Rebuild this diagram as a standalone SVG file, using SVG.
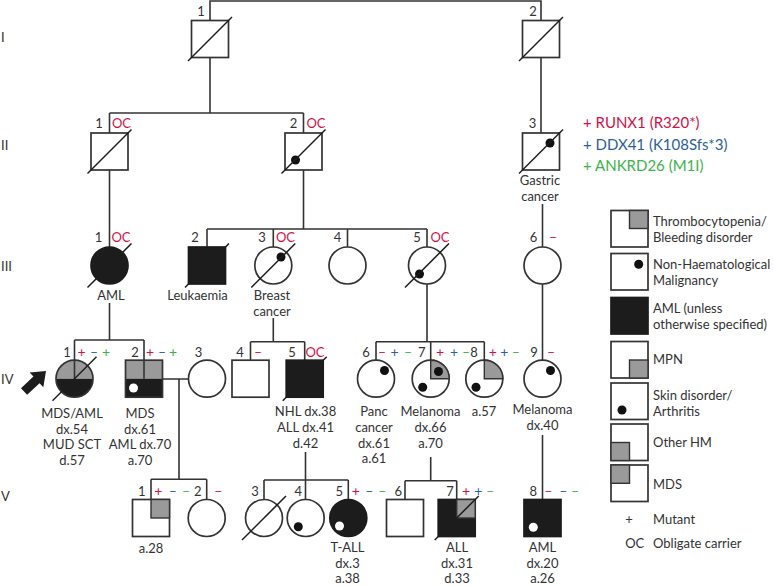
<svg xmlns="http://www.w3.org/2000/svg" width="774" height="586" viewBox="0 0 774 586">
<style>
.ln{stroke:#333;stroke-width:1.6;fill:none}
.sym{stroke:#333;stroke-width:1.7;fill:#fff}
.blk{fill:#1c1c1c;stroke:#1c1c1c;stroke-width:1.7}
.gry{fill:#9a9a9a;stroke:#333;stroke-width:1.4}
.sl{stroke:#1c1c1c;stroke-width:1.5}
.dot{fill:#111}
.wd{fill:#fff}
.t{font-family:Lato,"Open Sans","Noto Sans",sans-serif;font-size:13px;fill:#333}
.c{text-anchor:middle}
.r{fill:#d31145}
.b{fill:#2d5f9a}
.g{fill:#3cb34a}
.s{font-size:14px}
.m{font-size:15px}
</style>
<rect width="774" height="586" fill="#fff"/>
<g id="gen-labels" class="t">
<text x="1" y="42">I</text>
<text x="1" y="150">II</text>
<text x="1" y="271">III</text>
<text x="1" y="384">IV</text>
<text x="1" y="501">V</text>
</g>
<g id="connectors" class="ln">
<path d="M210,21V1H541V21"/>
<path d="M210,57V113M109.5,113H303.5M109.5,113V133M303.5,113V133"/>
<path d="M541,57V133"/>
<path d="M109.5,170V247"/>
<path d="M303.5,170V229M207,229H427M207,229V247M273.3,229V247M347.5,229V247M427,229V247"/>
<path d="M542.5,204V247"/>
<path d="M109.5,303V340M74.5,340H144M74.5,340V360M144,340V360"/>
<path d="M273.3,318V341.7M250.5,341.7H304.7M250.5,341.7V360M304.7,341.7V360"/>
<path d="M427,284V341.7M376,341.7H484.3M376,341.7V360M430.7,341.7V360M484.3,341.7V360"/>
<path d="M542.5,284V360"/>
<path d="M162.5,379H188.5M179,379V479.3M151,479.3H206.7M151,479.3V499.5M206.7,479.3V499.5"/>
<path d="M305.5,452V499.5M264,480H348.3M264,480V499.5M348.3,480V499.5"/>
<path d="M430.7,457V480.7M405,480.7H456.7M405,480.7V499.5M456.7,480.7V499.5"/>
<path d="M542.5,435V499.5"/>
</g>
<g id="I-1">
<rect class="sym" x="191.5" y="20.5" width="37" height="37"/>
<line class="sl" x1="188" y1="61" x2="232" y2="17"/>
<text class="t c" x="201" y="16">1</text>
</g>
<g id="I-2">
<rect class="sym" x="522.5" y="20.5" width="37" height="37"/>
<line class="sl" x1="519" y1="61" x2="563" y2="17"/>
<text class="t c" x="533" y="16">2</text>
</g>
<g id="II-1">
<rect class="sym" x="91" y="133" width="37" height="37"/>
<line class="sl" x1="87.5" y1="173.5" x2="131.5" y2="129.5"/>
<text class="t c" x="99" y="127.5">1</text>
<text class="t c r" x="121.5" y="127.5">OC</text>
</g>
<g id="II-2">
<rect class="sym" x="285" y="133" width="37" height="37"/>
<circle class="dot" cx="295.5" cy="160" r="4.5"/>
<line class="sl" x1="281.5" y1="173.5" x2="325.5" y2="129.5"/>
<text class="t c" x="293.5" y="127.5">2</text>
<text class="t c r" x="316" y="127.5">OC</text>
</g>
<g id="II-3">
<rect class="sym" x="522.5" y="133" width="37" height="37"/>
<circle class="dot" cx="550" cy="143" r="4.5"/>
<line class="sl" x1="519" y1="173.5" x2="563" y2="129.5"/>
<text class="t c" x="532.5" y="127.5">3</text>
<text class="t c" x="540" y="185">Gastric</text>
<text class="t c" x="540" y="200.5">cancer</text>
</g>
<g id="III-1">
<circle class="blk" cx="109.5" cy="265.5" r="18.5"/>
<line class="sl" x1="87.5" y1="287.5" x2="131.5" y2="243.5"/>
<text class="t c" x="98.5" y="242">1</text>
<text class="t c r" x="121" y="242">OC</text>
<text class="t c" x="111" y="300">AML</text>
</g>
<g id="III-2">
<rect class="blk" x="188.5" y="247" width="37" height="37"/>
<line class="sl" x1="185" y1="287.5" x2="229" y2="243.5"/>
<text class="t c" x="195" y="242">2</text>
<text class="t c" x="197.5" y="300">Leukaemia</text>
</g>
<g id="III-3">
<circle class="sym" cx="273.3" cy="265.5" r="18.5"/>
<circle class="dot" cx="281" cy="257" r="4.5"/>
<line class="sl" x1="251.3" y1="287.5" x2="295.3" y2="243.5"/>
<text class="t c" x="262" y="242">3</text>
<text class="t c r" x="285.5" y="242">OC</text>
<text class="t c" x="272" y="300">Breast</text>
<text class="t c" x="272" y="315.5">cancer</text>
</g>
<g id="III-4">
<circle class="sym" cx="347.5" cy="265.5" r="18.5"/>
<text class="t c" x="337.5" y="242">4</text>
</g>
<g id="III-5">
<circle class="sym" cx="427" cy="265.5" r="18.5"/>
<circle class="dot" cx="419.5" cy="274" r="4.5"/>
<line class="sl" x1="405" y1="287.5" x2="449" y2="243.5"/>
<text class="t c" x="417" y="242">5</text>
<text class="t c r" x="440" y="242">OC</text>
</g>
<g id="III-6">
<circle class="sym" cx="542.5" cy="265.5" r="18.5"/>
<text class="t c" x="533.5" y="242">6</text>
<text class="t c s r" x="553" y="242">–</text>
</g>
<g id="IV-arrow">
<polygon fill="#1c1c1c" points="0,0 -13,-10 -13,-4.5 -30,-4.5 -30,4.5 -13,4.5 -13,10" transform="translate(46,371) rotate(-43)"/>
</g>
<g id="IV-1">
<path fill="#9a9a9a" d="M56,378.7A18.5,18.5 0 0 1 93,378.7Z"/>
<path fill="#1c1c1c" d="M56,378.7A18.5,18.5 0 0 0 93,378.7Z"/>
<line class="ln" x1="74.5" y1="360.2" x2="74.5" y2="378.7"/>
<circle cx="74.5" cy="378.7" r="18.5" fill="none" stroke="#333" stroke-width="1.7"/>
<line class="sl" x1="52.5" y1="400.7" x2="96.5" y2="356.7"/>
<text class="t c" x="67" y="357">1</text>
<text class="t c s r" x="81.5" y="357">+</text>
<text class="t c s b" x="94" y="357">–</text>
<text class="t c s g" x="106" y="357">+</text>
<text class="t c" x="72" y="418">MDS/AML</text>
<text class="t c" x="72" y="433.5">dx.54</text>
<text class="t c" x="72" y="449">MUD SCT</text>
<text class="t c" x="72" y="464.5">d.57</text>
</g>
<g id="IV-2">
<rect fill="#9a9a9a" x="125.5" y="360.2" width="37" height="18.5"/>
<rect fill="#1c1c1c" x="125.5" y="378.7" width="37" height="18.5"/>
<line class="ln" x1="144" y1="360.2" x2="144" y2="378.7"/>
<rect x="125.5" y="360.2" width="37" height="37" fill="none" stroke="#333" stroke-width="1.7"/>
<circle class="wd" cx="133.5" cy="388" r="4.5"/>
<text class="t c" x="135" y="357">2</text>
<text class="t c s r" x="150" y="357">+</text>
<text class="t c s b" x="162" y="357">–</text>
<text class="t c s g" x="173" y="357">+</text>
<text class="t c" x="140" y="418">MDS</text>
<text class="t c" x="140" y="433.5">dx.61</text>
<text class="t c" x="140" y="449">AML dx.70</text>
<text class="t c" x="140" y="464.5">a.70</text>
</g>
<g id="IV-3">
<circle class="sym" cx="207" cy="378.7" r="18.5"/>
<text class="t c" x="198.5" y="357">3</text>
</g>
<g id="IV-4">
<rect class="sym" x="232" y="360.2" width="37" height="37"/>
<text class="t c" x="240" y="357">4</text>
<text class="t c s r" x="258" y="357">–</text>
</g>
<g id="IV-5">
<rect class="blk" x="286.2" y="360.2" width="37" height="37"/>
<line class="sl" x1="282.7" y1="400.7" x2="326.7" y2="356.7"/>
<text class="t c" x="292" y="357">5</text>
<text class="t c r" x="315" y="357">OC</text>
<text class="t c" x="305.5" y="416">NHL dx.38</text>
<text class="t c" x="305.5" y="432">ALL dx.41</text>
<text class="t c" x="305.5" y="447.5">d.42</text>
</g>
<g id="IV-6">
<circle class="sym" cx="376" cy="378.7" r="18.5"/>
<circle class="dot" cx="384.5" cy="370.5" r="4.5"/>
<text class="t c" x="366" y="357">6</text>
<text class="t c s r" x="382" y="357">–</text>
<text class="t c s b" x="394.5" y="357">+</text>
<text class="t c s g" x="408" y="357">–</text>
<text class="t c" x="374" y="416">Panc</text>
<text class="t c" x="374" y="432">cancer</text>
<text class="t c" x="374" y="447.5">dx.61</text>
<text class="t c" x="374" y="463">a.61</text>
</g>
<g id="IV-7">
<circle class="sym" cx="430.7" cy="378.7" r="18.5"/>
<path class="gry" d="M430.7,378.7V360.2A18.5,18.5 0 0 1 449.2,378.7Z"/>
<circle class="dot" cx="438.5" cy="371.5" r="4.5"/>
<circle class="dot" cx="422.7" cy="387.3" r="4.5"/>
<text class="t c" x="421.7" y="357">7</text>
<text class="t c s r" x="440" y="357">+</text>
<text class="t c s b" x="454" y="357">+</text>
<text class="t c s g" x="466" y="357">–</text>
<text class="t c" x="430.5" y="416">Melanoma</text>
<text class="t c" x="430.5" y="432">dx.66</text>
<text class="t c" x="430.5" y="447.5">a.70</text>
</g>
<g id="IV-8">
<circle class="sym" cx="484.3" cy="378.7" r="18.5"/>
<path class="gry" d="M484.3,378.7V360.2A18.5,18.5 0 0 1 502.8,378.7Z"/>
<circle class="dot" cx="476" cy="387.3" r="4.5"/>
<text class="t c" x="474" y="357">8</text>
<text class="t c s r" x="492.7" y="357">+</text>
<text class="t c s b" x="504.3" y="357">+</text>
<text class="t c s g" x="515.7" y="357">–</text>
<text class="t c" x="484" y="416">a.57</text>
</g>
<g id="IV-9">
<circle class="sym" cx="542.5" cy="378.7" r="18.5"/>
<circle class="dot" cx="550.5" cy="370.5" r="4.5"/>
<text class="t c" x="534" y="357">9</text>
<text class="t c s r" x="551" y="357">–</text>
<text class="t c" x="542.5" y="414">Melanoma</text>
<text class="t c" x="542.5" y="429.5">dx.40</text>
</g>
<g id="V-1">
<rect class="sym" x="132.5" y="499.5" width="37" height="37"/>
<rect class="gry" x="151" y="499.5" width="18.5" height="18.5"/>
<text class="t c" x="141.7" y="496">1</text>
<text class="t c s r" x="158.3" y="496">+</text>
<text class="t c s b" x="172.7" y="496">–</text>
<text class="t c s g" x="186" y="496">–</text>
<text class="t c" x="151" y="552.5">a.28</text>
</g>
<g id="V-2">
<circle class="sym" cx="206.7" cy="518" r="18.5"/>
<text class="t c" x="197.7" y="496">2</text>
<text class="t c s r" x="218.3" y="496">–</text>
</g>
<g id="V-3">
<circle class="sym" cx="264" cy="518" r="18.5"/>
<line class="sl" x1="242" y1="540" x2="286" y2="496"/>
<text class="t c" x="255" y="496">3</text>
</g>
<g id="V-4">
<circle class="sym" cx="305.7" cy="518" r="18.5"/>
<circle class="dot" cx="298.3" cy="526.7" r="4.5"/>
<text class="t c" x="298.3" y="496">4</text>
</g>
<g id="V-5">
<circle class="blk" cx="348.3" cy="518" r="18.5"/>
<circle class="wd" cx="339.5" cy="526" r="4.5"/>
<text class="t c" x="339.3" y="496">5</text>
<text class="t c s r" x="355.7" y="496">+</text>
<text class="t c s b" x="369.3" y="496">–</text>
<text class="t c s g" x="382.3" y="496">–</text>
<text class="t c" x="347.5" y="552">T-ALL</text>
<text class="t c" x="347.5" y="567.5">dx.3</text>
<text class="t c" x="347.5" y="582.5">a.38</text>
</g>
<g id="V-6">
<rect class="sym" x="386.5" y="499.5" width="37" height="37"/>
<text class="t c" x="398.3" y="496">6</text>
</g>
<g id="V-7">
<rect class="blk" x="438.2" y="499.5" width="37" height="37"/>
<rect class="gry" x="456.7" y="499.5" width="18.5" height="18.5"/>
<line class="sl" x1="434.7" y1="540" x2="478.7" y2="496"/>
<text class="t c" x="450" y="496">7</text>
<text class="t c s r" x="466" y="496">+</text>
<text class="t c s b" x="478.3" y="496">+</text>
<text class="t c s g" x="490" y="496">–</text>
<text class="t c" x="457" y="552">ALL</text>
<text class="t c" x="457" y="567.5">dx.31</text>
<text class="t c" x="457" y="582.5">d.33</text>
</g>
<g id="V-8">
<rect class="blk" x="524" y="499.5" width="37" height="37"/>
<circle class="wd" cx="533.3" cy="527.3" r="4.5"/>
<text class="t c" x="533.3" y="496">8</text>
<text class="t c s r" x="548.3" y="496">–</text>
<text class="t c s b" x="563.3" y="496">–</text>
<text class="t c s g" x="575" y="496">–</text>
<text class="t c" x="542.5" y="552">AML</text>
<text class="t c" x="542.5" y="567.5">dx.20</text>
<text class="t c" x="542.5" y="582.5">a.26</text>
</g>
<g id="legend-mutations">
<text class="t m r" x="583" y="128">+ RUNX1 (R320*)</text>
<text class="t m b" x="583" y="149.5">+ DDX41 (K108Sfs*3)</text>
<text class="t m g" x="583" y="171">+ ANKRD26 (M1I)</text>
</g>
<g id="legend-symbols">
<rect class="sym" x="611" y="210.5" width="37" height="36.5"/>
<rect class="gry" x="629.5" y="210.5" width="18.5" height="18"/>
<text class="t" x="653" y="225.5">Thrombocytopenia/</text>
<text class="t" x="653" y="241.5">Bleeding disorder</text>
<rect class="sym" x="611" y="253.5" width="37" height="36.5"/>
<circle class="dot" cx="638.7" cy="264.3" r="4.5"/>
<text class="t" x="653" y="269">Non-Haematological</text>
<text class="t" x="653" y="285">Malignancy</text>
<rect class="blk" x="611" y="297.5" width="37" height="36.5"/>
<text class="t" x="653" y="313">AML (unless</text>
<text class="t" x="653" y="328.5">otherwise specified)</text>
<rect class="sym" x="611" y="341.5" width="37" height="36.5"/>
<rect class="gry" x="629.5" y="360" width="18.5" height="18"/>
<text class="t" x="653" y="364">MPN</text>
<rect class="sym" x="611" y="383" width="37" height="36.5"/>
<circle class="dot" cx="622" cy="410" r="4.5"/>
<text class="t" x="653" y="400">Skin disorder/</text>
<text class="t" x="653" y="415.5">Arthritis</text>
<rect class="sym" x="611" y="424" width="37" height="36.5"/>
<rect class="gry" x="611" y="442.5" width="18.5" height="18"/>
<text class="t" x="653" y="446.5">Other HM</text>
<rect class="sym" x="611" y="465" width="37" height="36.5"/>
<rect class="gry" x="611" y="465" width="18.5" height="18.3"/>
<text class="t" x="653" y="489">MDS</text>
<text class="t c" x="629" y="524">+</text>
<text class="t" x="653" y="524">Mutant</text>
<text class="t c" x="634.7" y="547.5">OC</text>
<text class="t" x="653" y="547.5">Obligate carrier</text>
</g>
</svg>
